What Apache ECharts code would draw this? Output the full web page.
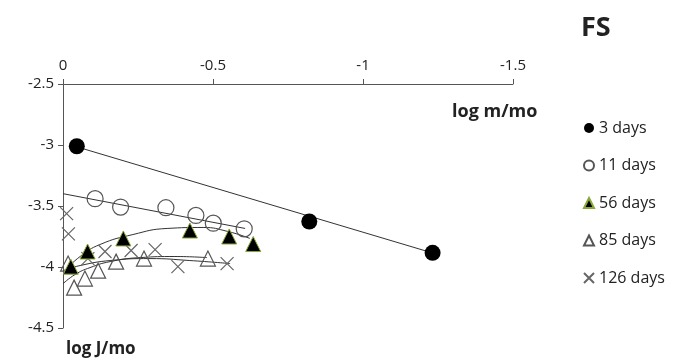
<!DOCTYPE html>
<html>
<head>
<meta charset="utf-8">
<script src="https://cdn.jsdelivr.net/npm/echarts@6/dist/echarts.min.js"></script>
<style>
html,body{margin:0;padding:0;background:#fff;}
#chart{width:681px;height:361px;}
</style>
</head>
<body>
<div id="chart"></div>
<script>
// ---- data ----
var seriesNames = ['3 days', '11 days', '56 days', '85 days', '126 days'];
var xTicks = [0, -0.5, -1, -1.5];
var yTicks = [-2.5, -3, -3.5, -4, -4.5];

var d3X = [-0.046, -0.821, -1.232];
var d3Y = [-3.010, -3.627, -3.884];
var d11X = [-0.107, -0.192, -0.343, -0.443, -0.501, -0.604];
var d11Y = [-3.440, -3.509, -3.514, -3.577, -3.641, -3.687];
var d56X = [-0.026, -0.082, -0.201, -0.423, -0.554, -0.634];
var d56Y = [-3.997, -3.873, -3.766, -3.701, -3.750, -3.812];
var d85X = [-0.017, -0.037, -0.073, -0.117, -0.177, -0.270, -0.483];
var d85Y = [-3.972, -4.169, -4.095, -4.030, -3.956, -3.931, -3.931];
var d126X = [-0.012, -0.018, -0.083, -0.140, -0.227, -0.307, -0.383, -0.547];
var d126Y = [-3.563, -3.728, -3.931, -3.873, -3.865, -3.857, -3.997, -3.972];

// trend lines
var fit3X = [-0.046, -1.232];
var fit3Y = [-3.015, -3.885];
var fit11X = [0, -0.607];
var fit11Y = [-3.399, -3.684];
var fit56X = [-0.010, -0.057, -0.123, -0.233, -0.347, -0.467, -0.550, -0.623];
var fit56Y = [-4.021, -3.914, -3.816, -3.734, -3.684, -3.676, -3.709, -3.766];
var fit85X = [0, -0.040, -0.090, -0.157, -0.257, -0.373, -0.480];
var fit85Y = [-4.137, -4.062, -4.005, -3.956, -3.923, -3.914, -3.923];
var fit126X = [0, -0.057, -0.157, -0.290, -0.423, -0.557];
var fit126Y = [-4.030, -3.988, -3.947, -3.931, -3.947, -3.972];

function zip(a, b) { return a.map(function (v, i) { return [v, b[i]]; }); }

var FONT = '"Open Sans", Lato, sans-serif';
var chart = echarts.init(document.getElementById('chart'), null, {renderer: 'canvas'});

function fitLine(name, xs, ys, smooth) {
  return {
    name: name, type: 'line', data: zip(xs, ys), smooth: smooth ? 0.5 : false,
    showSymbol: false, symbol: 'none', silent: true, z: 1,
    lineStyle: {color: '#333', width: 1}
  };
}

var crossPath = 'path://M0,0L10,10M10,0L0,10';

var option = {
  animation: false,
  backgroundColor: '#fff',
  grid: {left: 63, right: 168, top: 84, bottom: 33, containLabel: false},
  xAxis: {
    type: 'value', position: 'top', inverse: true,
    min: -1.5, max: 0, interval: 0.5,
    axisLine: {show: true, onZero: false, lineStyle: {color: '#555', width: 1}},
    axisTick: {show: true, inside: false, length: 5, lineStyle: {color: '#555'}},
    axisLabel: {color: '#222', fontSize: 15, fontFamily: FONT, margin: 11,
      formatter: function (v) { return xTicks.indexOf(v) >= 0 ? String(v) : ''; }},
    splitLine: {show: false}
  },
  yAxis: {
    type: 'value', min: -4.5, max: -2.5, interval: 0.5,
    axisLine: {show: true, onZero: false, lineStyle: {color: '#555', width: 1}},
    axisTick: {show: true, inside: false, length: 5, lineStyle: {color: '#555'}},
    axisLabel: {color: '#222', fontSize: 15, fontFamily: FONT, margin: 9,
      formatter: function (v) { return yTicks.indexOf(v) >= 0 ? String(v) : ''; }},
    splitLine: {show: false}
  },
  legend: {
    orient: 'vertical', left: 578, top: 115, itemGap: 21.5,
    itemWidth: 10, itemHeight: 10,
    data: seriesNames,
    textStyle: {color: '#222', fontSize: 16, fontFamily: FONT}
  },
  graphic: [
    {type: 'text', left: 581, top: 15, style: {text: 'FS', fontSize: 27, fontWeight: 'bold', fontFamily: FONT, fill: '#222'}},
    {type: 'text', left: 452, top: 103, style: {text: 'log m/mo', fontSize: 18, fontWeight: 'bold', fontFamily: FONT, fill: '#222'}},
    {type: 'text', left: 66, top: 341, style: {text: 'log J/mo', fontSize: 17, fontWeight: 'bold', fontFamily: FONT, fill: '#222'}}
  ],
  series: [
    fitLine('fit3', fit3X, fit3Y, false),
    fitLine('fit11', fit11X, fit11Y, false),
    fitLine('fit56', fit56X, fit56Y, true),
    fitLine('fit85', fit85X, fit85Y, true),
    fitLine('fit126', fit126X, fit126Y, true),
    {name: seriesNames[4], type: 'scatter', data: zip(d126X, d126Y), symbol: crossPath, symbolSize: 13, z: 3,
      itemStyle: {color: 'rgba(0,0,0,0)', borderColor: '#666', borderWidth: 1.2, opacity: 1}},
    {name: seriesNames[3], type: 'scatter', data: zip(d85X, d85Y), symbol: 'triangle', symbolSize: 15, z: 3,
      itemStyle: {color: 'rgba(255,255,255,0)', borderColor: '#555', borderWidth: 1.2, opacity: 1}},
    {name: seriesNames[2], type: 'scatter', data: zip(d56X, d56Y), symbol: 'triangle', symbolSize: 15, z: 4,
      itemStyle: {color: '#000', borderColor: '#8aa83a', borderWidth: 1, opacity: 1}},
    {name: seriesNames[1], type: 'scatter', data: zip(d11X, d11Y), symbol: 'circle', symbolSize: 16, z: 3,
      itemStyle: {color: 'rgba(255,255,255,0)', borderColor: '#555', borderWidth: 1.2, opacity: 1}},
    {name: seriesNames[0], type: 'scatter', data: zip(d3X, d3Y), symbol: 'circle', symbolSize: 16, z: 4,
      itemStyle: {color: '#000', borderColor: '#000', borderWidth: 0, opacity: 1}}
  ]
};
chart.setOption(option);
</script>
</body>
</html>
